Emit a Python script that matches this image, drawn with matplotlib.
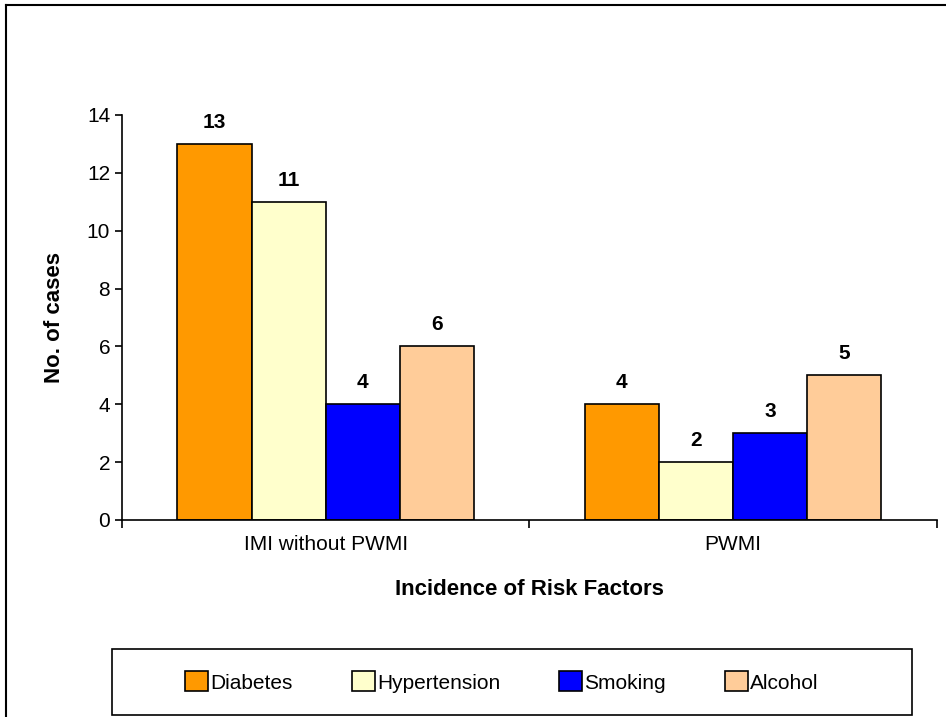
import matplotlib.pyplot as plt
import numpy as np
from matplotlib.lines import Line2D
from matplotlib.patches import Rectangle

plt.rcParams['font.family'] = ['Liberation Sans', 'DejaVu Sans']

# Data
groups = ['IMI without PWMI', 'PWMI']
factors = ['Diabetes', 'Hypertension', 'Smoking', 'Alcohol']
diabetes = [13, 4]
hypertension = [11, 2]
smoking = [4, 3]
alcohol = [6, 5]
colors = ['#FF9900', '#FFFFCC', '#0000FF', '#FFCC99']

series = [diabetes, hypertension, smoking, alcohol]

fig = plt.figure(figsize=(9.46, 7.17), dpi=100)
ax = fig.add_axes([0.129, 0.2748, 0.861, 0.5649])

x = np.arange(len(groups))
width = 0.182
for i, (vals, name, col) in enumerate(zip(series, factors, colors)):
    pos = x + (i - 1.5) * width
    bars = ax.bar(pos, vals, width, color=col, edgecolor='black', linewidth=1.2, label=name)
    for b, v in zip(bars, vals):
        ax.text(b.get_x() + b.get_width() / 2, v + 0.42, str(v), ha='center', va='bottom',
                fontsize=15, fontweight='bold')

ax.set_xlim(-0.5, 1.5)
ax.set_ylim(0, 14)
ax.set_yticks(range(0, 15, 2))
ax.tick_params(axis='y', labelsize=15, length=5, width=1.2, direction='out')

# category labels between boundary ticks
ax.set_xticks([-0.5, 0.5, 1.5])
ax.set_xticklabels([])
ax.tick_params(axis='x', length=6, width=1.2, direction='out')
ax.set_xticks(x, minor=True)
ax.set_xticklabels(groups, minor=True, fontsize=15)
ax.tick_params(axis='x', which='minor', length=0, pad=11)

for s in ['top', 'right']:
    ax.spines[s].set_visible(False)
for s in ['left', 'bottom']:
    ax.spines[s].set_linewidth(1.2)

ax.set_ylabel('No. of cases', fontsize=16, fontweight='bold', labelpad=16)
ax.set_xlabel('Incidence of Risk Factors', fontsize=16, fontweight='bold', labelpad=18)

# legend box
fig.add_artist(Rectangle((112 / 946, 2 / 717), 800 / 946, 66 / 717, transform=fig.transFigure,
                         facecolor='white', edgecolor='black', linewidth=1.2))
leg = fig.legend(loc='center', bbox_to_anchor=(502 / 946, 35 / 717), ncol=4, fontsize=15,
                 frameon=False, handlelength=1.1, handleheight=1.1, handletextpad=0.1,
                 columnspacing=2.85)

# outer frame
fig.add_artist(Line2D([6 / 946, 6 / 946], [0, 1 - 5 / 717], transform=fig.transFigure,
                      color='black', linewidth=1.5))
fig.add_artist(Line2D([6 / 946, 1], [1 - 5 / 717, 1 - 5 / 717], transform=fig.transFigure,
                      color='black', linewidth=1.5))

fig.savefig('out.png', dpi=100)
